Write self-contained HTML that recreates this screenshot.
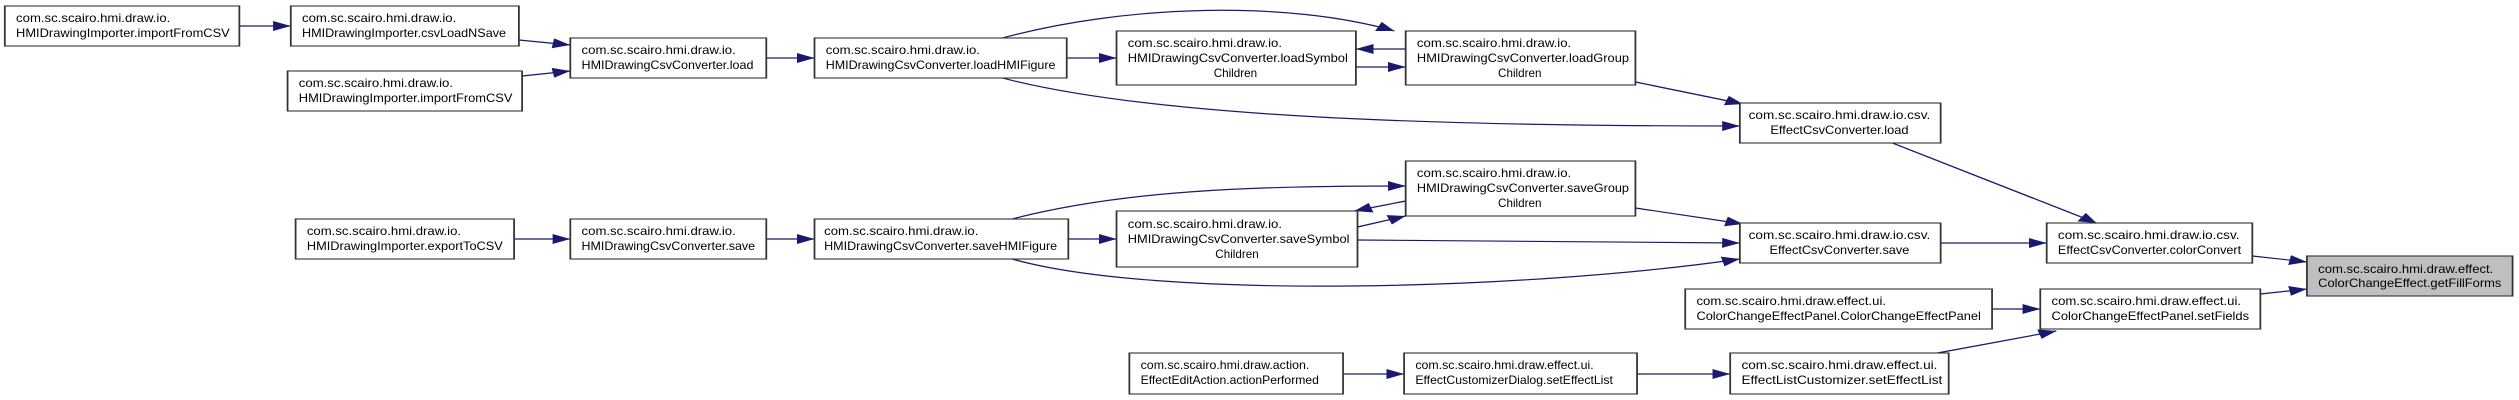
<!DOCTYPE html>
<html><head><meta charset="utf-8"><style>html,body{margin:0;padding:0;background:#fff}svg{display:block}</style></head>
<body>
<svg width="2519" height="400" viewBox="0 0 1568 400" preserveAspectRatio="none" xmlns="http://www.w3.org/2000/svg" font-family="Liberation Sans, sans-serif" font-size="11.5" fill="#000">
<defs>
<marker id="a" markerUnits="userSpaceOnUse" markerWidth="12" markerHeight="10" refX="11" refY="5" orient="auto" viewBox="0 0 12 10">
<path d="M0,0 L11,5 L0,10 Z" fill="#191970"/></marker>
</defs>
<g stroke="#191970" stroke-width="1.2" fill="none" marker-end="url(#a)">
<path d="M149,26 L181,26"/>
<path d="M323,40 L355,45"/>
<path d="M325,76 L355,71"/>
<path d="M477,58 L507,58"/>
<path d="M664,58 L695,58"/>
<path d="M844,67 L875,67"/>
<path d="M875,49 L844,49"/>
<path d="M624,38 C700,5 800,0 868,31"/>
<path d="M624,78 C720,118 900,126 1083,126"/>
<path d="M1018,82 L1085,104"/>
<path d="M1178,143 L1305,223"/>
<path d="M1208,243 L1274,243"/>
<path d="M1402,256 L1436,262"/>
<path d="M1407,294 L1436,289"/>
<path d="M1240,309 L1270,309"/>
<path d="M1206,353 L1280,331"/>
<path d="M836,374 L874,374"/>
<path d="M1019,374 L1077,374"/>
<path d="M320,239 L355,239"/>
<path d="M477,239 L507,239"/>
<path d="M665,239 L695,239"/>
<path d="M630,219 C700,190 780,186 875,186"/>
<path d="M845,227 L875,216"/>
<path d="M875,201 L843,211"/>
<path d="M1018,208 L1085,224"/>
<path d="M845,240 L1083,243"/>
<path d="M630,259 C720,300 950,290 1083,259"/>
</g>
<g stroke="#333" stroke-width="1.1" fill="#fff">
<rect x="3" y="6" width="146" height="40"/>
<rect x="181" y="6" width="142" height="40"/>
<rect x="355" y="38" width="122" height="40"/>
<rect x="179" y="71" width="146" height="40"/>
<rect x="507" y="38" width="157" height="40"/>
<rect x="695" y="31" width="149" height="54"/>
<rect x="875" y="31" width="143" height="54"/>
<rect x="1083" y="103" width="125" height="40"/>
<rect x="184" y="219" width="136" height="40"/>
<rect x="355" y="219" width="122" height="40"/>
<rect x="507" y="219" width="158" height="40"/>
<rect x="695" y="211" width="150" height="56"/>
<rect x="875" y="161" width="143" height="55"/>
<rect x="1083" y="223" width="125" height="40"/>
<rect x="1274" y="223" width="128" height="40"/>
<rect x="1436" y="256" width="128" height="40" fill="#bfbfbf"/>
<rect x="1049" y="289" width="191" height="40"/>
<rect x="1270" y="289" width="137" height="40"/>
<rect x="703" y="353" width="133" height="41"/>
<rect x="874" y="353" width="145" height="41"/>
<rect x="1077" y="353" width="136" height="41"/>
</g>
<g>
<text x="10" y="22" textLength="96" lengthAdjust="spacingAndGlyphs">com.sc.scairo.hmi.draw.io.</text>
<text x="10" y="37" textLength="133" lengthAdjust="spacingAndGlyphs">HMIDrawingImporter.importFromCSV</text>
<text x="188" y="22" textLength="96" lengthAdjust="spacingAndGlyphs">com.sc.scairo.hmi.draw.io.</text>
<text x="188" y="37" textLength="127" lengthAdjust="spacingAndGlyphs">HMIDrawingImporter.csvLoadNSave</text>
<text x="362" y="54" textLength="96" lengthAdjust="spacingAndGlyphs">com.sc.scairo.hmi.draw.io.</text>
<text x="362" y="69" textLength="107" lengthAdjust="spacingAndGlyphs">HMIDrawingCsvConverter.load</text>
<text x="186" y="87" textLength="96" lengthAdjust="spacingAndGlyphs">com.sc.scairo.hmi.draw.io.</text>
<text x="186" y="102" textLength="133" lengthAdjust="spacingAndGlyphs">HMIDrawingImporter.importFromCSV</text>
<text x="514" y="54" textLength="96" lengthAdjust="spacingAndGlyphs">com.sc.scairo.hmi.draw.io.</text>
<text x="514" y="69" textLength="143" lengthAdjust="spacingAndGlyphs">HMIDrawingCsvConverter.loadHMIFigure</text>
<text x="702" y="47" textLength="96" lengthAdjust="spacingAndGlyphs">com.sc.scairo.hmi.draw.io.</text>
<text x="702" y="62" textLength="137" lengthAdjust="spacingAndGlyphs">HMIDrawingCsvConverter.loadSymbol</text>
<text x="769" y="77" text-anchor="middle" textLength="27" lengthAdjust="spacingAndGlyphs">Children</text>
<text x="882" y="47" textLength="96" lengthAdjust="spacingAndGlyphs">com.sc.scairo.hmi.draw.io.</text>
<text x="882" y="62" textLength="132" lengthAdjust="spacingAndGlyphs">HMIDrawingCsvConverter.loadGroup</text>
<text x="946" y="77" text-anchor="middle" textLength="27" lengthAdjust="spacingAndGlyphs">Children</text>
<text x="1145" y="119" text-anchor="middle" textLength="113" lengthAdjust="spacingAndGlyphs">com.sc.scairo.hmi.draw.io.csv.</text>
<text x="1145" y="134" text-anchor="middle" textLength="86" lengthAdjust="spacingAndGlyphs">EffectCsvConverter.load</text>
<text x="191" y="235" textLength="96" lengthAdjust="spacingAndGlyphs">com.sc.scairo.hmi.draw.io.</text>
<text x="191" y="250" textLength="122" lengthAdjust="spacingAndGlyphs">HMIDrawingImporter.exportToCSV</text>
<text x="362" y="235" textLength="96" lengthAdjust="spacingAndGlyphs">com.sc.scairo.hmi.draw.io.</text>
<text x="362" y="250" textLength="108" lengthAdjust="spacingAndGlyphs">HMIDrawingCsvConverter.save</text>
<text x="513" y="235" textLength="96" lengthAdjust="spacingAndGlyphs">com.sc.scairo.hmi.draw.io.</text>
<text x="513" y="250" textLength="145" lengthAdjust="spacingAndGlyphs">HMIDrawingCsvConverter.saveHMIFigure</text>
<text x="702" y="228" textLength="96" lengthAdjust="spacingAndGlyphs">com.sc.scairo.hmi.draw.io.</text>
<text x="702" y="243" textLength="138" lengthAdjust="spacingAndGlyphs">HMIDrawingCsvConverter.saveSymbol</text>
<text x="770" y="258" text-anchor="middle" textLength="27" lengthAdjust="spacingAndGlyphs">Children</text>
<text x="882" y="177" textLength="96" lengthAdjust="spacingAndGlyphs">com.sc.scairo.hmi.draw.io.</text>
<text x="882" y="192" textLength="132" lengthAdjust="spacingAndGlyphs">HMIDrawingCsvConverter.saveGroup</text>
<text x="946" y="207" text-anchor="middle" textLength="27" lengthAdjust="spacingAndGlyphs">Children</text>
<text x="1145" y="239" text-anchor="middle" textLength="113" lengthAdjust="spacingAndGlyphs">com.sc.scairo.hmi.draw.io.csv.</text>
<text x="1145" y="254" text-anchor="middle" textLength="87" lengthAdjust="spacingAndGlyphs">EffectCsvConverter.save</text>
<text x="1281" y="239" textLength="113" lengthAdjust="spacingAndGlyphs">com.sc.scairo.hmi.draw.io.csv.</text>
<text x="1281" y="254" textLength="114" lengthAdjust="spacingAndGlyphs">EffectCsvConverter.colorConvert</text>
<text x="1443" y="273" textLength="109" lengthAdjust="spacingAndGlyphs">com.sc.scairo.hmi.draw.effect.</text>
<text x="1443" y="287" textLength="114" lengthAdjust="spacingAndGlyphs">ColorChangeEffect.getFillForms</text>
<text x="1056" y="305" textLength="118" lengthAdjust="spacingAndGlyphs">com.sc.scairo.hmi.draw.effect.ui.</text>
<text x="1056" y="320" textLength="177" lengthAdjust="spacingAndGlyphs">ColorChangeEffectPanel.ColorChangeEffectPanel</text>
<text x="1277" y="305" textLength="118" lengthAdjust="spacingAndGlyphs">com.sc.scairo.hmi.draw.effect.ui.</text>
<text x="1277" y="320" textLength="123" lengthAdjust="spacingAndGlyphs">ColorChangeEffectPanel.setFields</text>
<text x="710" y="369" textLength="105" lengthAdjust="spacingAndGlyphs">com.sc.scairo.hmi.draw.action.</text>
<text x="710" y="384" textLength="111" lengthAdjust="spacingAndGlyphs">EffectEditAction.actionPerformed</text>
<text x="881" y="369" textLength="111" lengthAdjust="spacingAndGlyphs">com.sc.scairo.hmi.draw.effect.ui.</text>
<text x="881" y="384" textLength="123" lengthAdjust="spacingAndGlyphs">EffectCustomizerDialog.setEffectList</text>
<text x="1084" y="369" textLength="122" lengthAdjust="spacingAndGlyphs">com.sc.scairo.hmi.draw.effect.ui.</text>
<text x="1084" y="384" textLength="125" lengthAdjust="spacingAndGlyphs">EffectListCustomizer.setEffectList</text>
</g>
</svg>
</body></html>
